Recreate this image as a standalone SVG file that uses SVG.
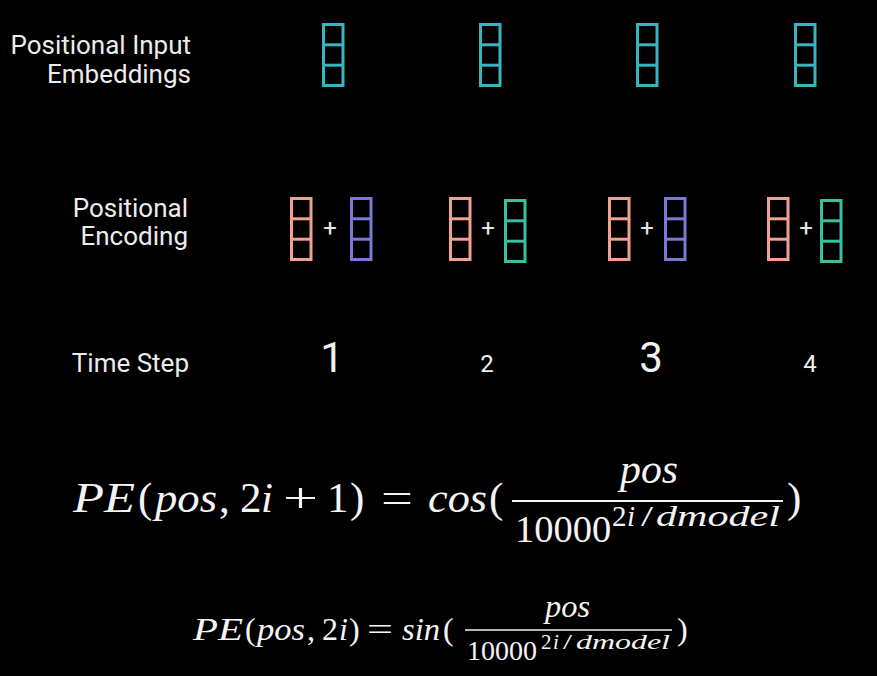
<svg xmlns="http://www.w3.org/2000/svg" width="877" height="676" viewBox="0 0 877 676">
<style>
.lbl{font-family:Roboto,"Liberation Sans",sans-serif;font-size:26px;fill:#ececec;text-anchor:end}
.num{font-family:Roboto,"Liberation Sans",sans-serif;fill:#f0f0f0;text-anchor:middle}
.plus{font-family:Roboto,"Liberation Sans",sans-serif;font-size:24px;fill:#e6e6e6;text-anchor:middle}
.m{font-family:"Liberation Serif","Times New Roman",serif;fill:#f4f4f4}
.it{font-style:italic}
.vec{fill:none;stroke-width:3}
.teal{stroke:#3ab4be}
.salmon{stroke:#f2a090}
.purple{stroke:#7a7ad4}
.green{stroke:#3cbea0}
.bar{stroke:#f4f4f4}
</style>
<defs>
<g id="v">
<rect x="1.5" y="1.5" width="19.5" height="61"/>
<line x1="1.5" y1="21.8" x2="21" y2="21.8"/>
<line x1="1.5" y1="42.2" x2="21" y2="42.2"/>
</g>
</defs>
<rect width="877" height="676" fill="#000"/>

<g id="label-embeddings">
<text class="lbl" x="191" y="54">Positional Input</text>
<text class="lbl" x="191" y="83">Embeddings</text>
</g>
<g id="label-encoding">
<text class="lbl" x="188" y="217">Positional</text>
<text class="lbl" x="188" y="245">Encoding</text>
</g>
<g id="label-timestep">
<text class="lbl" x="189" y="372">Time Step</text>
</g>

<g id="embeddings">
<use href="#v" class="vec teal" x="322" y="23"/>
<use href="#v" class="vec teal" x="479" y="23"/>
<use href="#v" class="vec teal" x="636" y="23"/>
<use href="#v" class="vec teal" x="794" y="23"/>
</g>

<g id="encoding-1">
<use href="#v" class="vec salmon" x="290" y="197"/>
<text class="plus" x="330" y="236">+</text>
<use href="#v" class="vec purple" x="350" y="197"/>
</g>
<g id="encoding-2">
<use href="#v" class="vec salmon" x="449" y="197"/>
<text class="plus" x="488" y="236">+</text>
<use href="#v" class="vec green" x="504" y="199"/>
</g>
<g id="encoding-3">
<use href="#v" class="vec salmon" x="608" y="197"/>
<text class="plus" x="647" y="236">+</text>
<use href="#v" class="vec purple" x="664" y="197"/>
</g>
<g id="encoding-4">
<use href="#v" class="vec salmon" x="767" y="197"/>
<text class="plus" x="806" y="236">+</text>
<use href="#v" class="vec green" x="820" y="199"/>
</g>

<g id="timesteps">
<text class="num" x="332" y="372" font-size="42">1</text>
<text class="num" x="487" y="372" font-size="24">2</text>
<text class="num" x="651" y="372" font-size="42">3</text>
<text class="num" x="810" y="372" font-size="24">4</text>
</g>

<g id="formula-cos" class="m" font-size="43">
<text class="m it" x="73" y="512" textLength="62" lengthAdjust="spacingAndGlyphs">PE</text>
<text class="m" x="138" y="512">(</text>
<text class="m it" x="155" y="512" textLength="62" lengthAdjust="spacingAndGlyphs">pos</text>
<text class="m" x="219" y="512">,</text>
<text class="m" x="240" y="512">2</text>
<text class="m it" x="261" y="512">i</text>
<text class="m" x="283" y="512" textLength="35" lengthAdjust="spacingAndGlyphs">+</text>
<text class="m" x="327" y="512">1</text>
<text class="m" x="350" y="512">)</text>
<text class="m" x="381" y="512" textLength="32" lengthAdjust="spacingAndGlyphs">=</text>
<text class="m it" x="428" y="512" textLength="59" lengthAdjust="spacingAndGlyphs">cos</text>
<text class="m" x="489" y="512">(</text>
<line class="bar" x1="512" y1="501" x2="783" y2="501" stroke-width="2"/>
<text class="m it" x="620" y="483" textLength="58" lengthAdjust="spacingAndGlyphs">pos</text>
<text class="m" x="515" y="542" font-size="38.5">10000</text>
<text class="m" x="612" y="526" font-size="29">2</text>
<text class="m it" x="627" y="526" font-size="29">i</text>
<text class="m" x="641" y="526" font-size="29" textLength="12" lengthAdjust="spacingAndGlyphs">/</text>
<text class="m it" x="656" y="526" font-size="29" textLength="124" lengthAdjust="spacingAndGlyphs">dmodel</text>
<text class="m" x="787" y="512">)</text>
</g>

<g id="formula-sin" class="m" font-size="32">
<text class="m it" x="193" y="640" textLength="50" lengthAdjust="spacingAndGlyphs">PE</text>
<text class="m" x="245" y="640">(</text>
<text class="m it" x="257" y="640" textLength="48" lengthAdjust="spacingAndGlyphs">pos</text>
<text class="m" x="307" y="640">,</text>
<text class="m" x="322" y="640">2</text>
<text class="m it" x="339" y="640">i</text>
<text class="m" x="349" y="640">)</text>
<text class="m" x="367" y="640" textLength="26" lengthAdjust="spacingAndGlyphs">=</text>
<text class="m it" x="402" y="640" textLength="38" lengthAdjust="spacingAndGlyphs">sin</text>
<text class="m" x="443" y="640">(</text>
<line class="bar" x1="465" y1="630" x2="672" y2="630" stroke-width="1.6"/>
<text class="m it" x="545" y="617" textLength="45" lengthAdjust="spacingAndGlyphs">pos</text>
<text class="m" x="467" y="660" font-size="28">10000</text>
<text class="m" x="541" y="649" font-size="21">2</text>
<text class="m it" x="553" y="649" font-size="21">i</text>
<text class="m" x="563" y="649" font-size="21" textLength="9" lengthAdjust="spacingAndGlyphs">/</text>
<text class="m it" x="576" y="649" font-size="21" textLength="94" lengthAdjust="spacingAndGlyphs">dmodel</text>
<text class="m" x="677" y="640">)</text>
</g>
</svg>
